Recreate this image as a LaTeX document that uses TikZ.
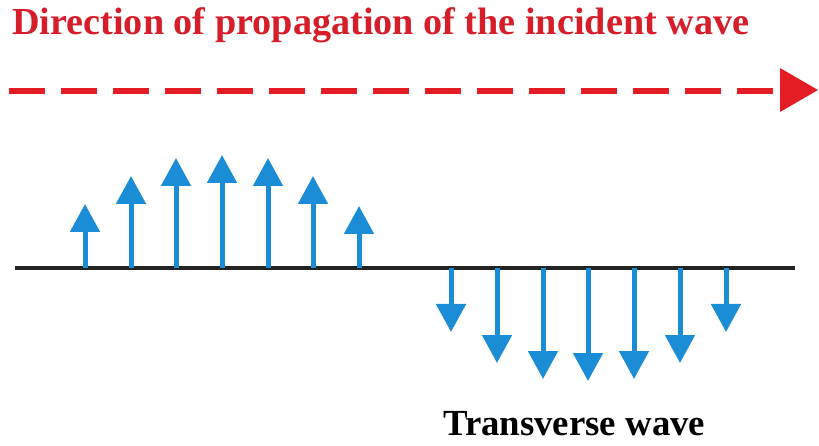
\documentclass[tikz,border=0pt]{standalone}
\usepackage{fontspec}
\setmainfont{Liberation Serif}
\usetikzlibrary{arrows.meta}
\definecolor{titlered}{RGB}{214,30,42}
\definecolor{arrowred}{RGB}{228,28,36}
\definecolor{waveblue}{RGB}{27,140,214}
\definecolor{axisgray}{RGB}{35,35,35}
\begin{document}
\begin{tikzpicture}[x=1pt,y=-1pt,
  titletext/.style={anchor=base west,inner sep=0pt,text=titlered,font=\bfseries\fontsize{38.2}{40}\selectfont},
  labeltext/.style={anchor=base west,inner sep=0pt,text=black,font=\bfseries\fontsize{36.8}{40}\selectfont},
  axisline/.style={draw=axisgray,line width=4pt},
  propline/.style={draw=arrowred,line width=6pt,dash pattern=on 36pt off 16pt},
  prophead/.style={fill=arrowred},
  vecarrow/.style={draw=waveblue,line width=5pt,-{Triangle[length=28pt,width=29pt]}}
]
\useasboundingbox (0,0) rectangle (819,446);
% title
\node[titletext] (title) at (12,35) {Direction of propagation of the incident wave};
% propagation arrow
\coordinate (ps) at (9,91);
\coordinate (pe) at (782,91);
\draw[propline] (ps) -- (pe);
\coordinate (hb1) at (780,68);
\coordinate (ht) at (818,90);
\coordinate (hb2) at (780,112);
\fill[prophead] (hb1) -- (ht) -- (hb2) -- cycle;
% axis
\coordinate (al) at (15,268);
\coordinate (ar) at (795,268);
\draw[axisline] (al) -- (ar);
% upward vectors
\foreach \i/\x/\t in {1/85/204,2/131/176,3/176/158,4/222/155,5/268/158,6/313/176,7/359/206}{
  \coordinate (ub\i) at (\x,268);
  \coordinate (ut\i) at (\x,\t);
  \draw[vecarrow] (ub\i) -- (ut\i);
}
% downward vectors
\foreach \i/\x/\t in {1/451/332,2/497/363,3/543/379,4/588/381,5/634/379,6/680/363,7/726/332}{
  \coordinate (db\i) at (\x,268);
  \coordinate (dt\i) at (\x,\t);
  \draw[vecarrow] (db\i) -- (dt\i);
}
% label
\node[labeltext] (label) at (443,435) {Transverse wave};
\end{tikzpicture}
\end{document}
